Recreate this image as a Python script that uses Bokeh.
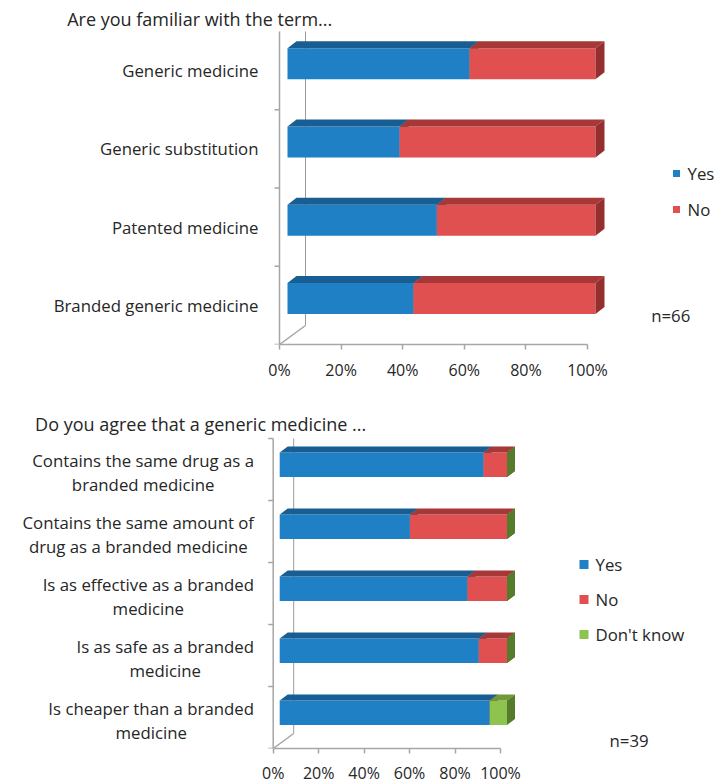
from bokeh.plotting import figure
from bokeh.models import Range1d, FixedTicker, PrintfTickFormatter
from bokeh.layouts import column
from bokeh.embed import file_html
from bokeh.resources import INLINE
from bokeh.core.properties import value

# ---------------- data ----------------
q1_title = "Are you familiar with the term..."
q1_categories = ["Generic medicine", "Generic substitution",
                 "Patented medicine", "Branded generic medicine"]
q1_series = ["Yes", "No"]
q1_yes = [59.1, 36.4, 48.5, 40.9]
q1_no = [40.9, 63.6, 51.5, 59.1]
q1_note = "n=66"

q2_title = "Do you agree that a generic medicine ..."
q2_categories = [
    "Contains the same drug as a\nbranded medicine",
    "Contains the same amount of\ndrug as a branded medicine",
    "Is as effective as a branded\nmedicine",
    "Is as safe as a branded\nmedicine",
    "Is cheaper than a branded\nmedicine",
]
q2_series = ["Yes", "No", "Don't know"]
q2_yes = [89.7, 57.3, 82.6, 87.6, 92.4]
q2_no = [10.3, 42.7, 17.4, 12.4, 0.0]
q2_dont_know = [0.0, 0.0, 0.0, 0.0, 7.6]
q2_note = "n=39"

pct_ticks = [0, 20, 40, 60, 80, 100]

# ---------------- style ----------------
FONT = "Open Sans"
TEXT = "#262626"
AXIS = "#A6A6A6"
WALL = "#9A9A9A"
FRONT = ["#1F80C6", "#E05050", "#8DC450"]
TOPC = ["#195E92", "#A63838", "#6E9A3A"]
SIDE = ["#17557F", "#952F2F", "#557C2B"]

G1 = dict(page_left=0, page_top=0, frame_w=718, frame_h=344, border_bottom=41,
          zero_px=279, hundred_px=587, floor_px=344, cat_px=78.25,
          wall=(26, 19), front_off=(8, 6.8), depth=(9, 7), bar_h_px=31,
          label_right_px=258, label_dy_px=0, title_left_px=66.7, title_base_px=18.5,
          title_size="18px", text_size="16.8px", tick_size="16px", standoff=9,
          legend_sq_px=676, legend_text_px=687, legend_y_px=[173, 209], legend_sq=7,
          note_px=(650.7, 315), top_tick=False)

G2 = dict(page_left=0, page_top=385, frame_w=718, frame_h=363, border_bottom=0,
          zero_px=272.7, hundred_px=500, floor_px=748, cat_px=62,
          wall=(20.5, 15), front_off=(6.5, 4.7), depth=(8, 6), bar_h_px=24.5,
          label_right_px=253.5, label_dy_px=3, title_left_px=34.6, title_base_px=423,
          title_size="18px", text_size="16.8px", tick_size="16px", standoff=8,
          legend_sq_px=583.5, legend_text_px=595, legend_y_px=[564, 599, 634], legend_sq=9,
          note_px=(609, 740), top_tick=True)


def build_chart(categories, series_names, series_values, title, note, g):
    sx = (g["hundred_px"] - g["zero_px"]) / 100.0
    sy = g["cat_px"]
    X = lambda px: (px - g["zero_px"]) / sx
    Y = lambda py: (g["floor_px"] - py) / sy
    DX = lambda px: px / sx
    DY = lambda px: px / sy
    fw, fh = g["frame_w"], g["frame_h"]

    p = figure(frame_width=fw, frame_height=fh,
               x_range=Range1d(X(g["page_left"]), X(g["page_left"] + fw)),
               y_range=Range1d(0, Y(g["page_top"])),
               output_backend="svg", toolbar_location=None, y_axis_location=None,
               min_border_left=0, min_border_right=0, min_border_top=0,
               min_border_bottom=g["border_bottom"], outline_line_color=None,
               background_fill_color="white", border_fill_color="white")
    p.grid.visible = False

    # x axis (floor)
    ax = p.xaxis[0]
    ax.ticker = FixedTicker(ticks=pct_ticks)
    ax.formatter = PrintfTickFormatter(format="%d%%")
    ax.bounds = (pct_ticks[0], pct_ticks[-1])
    ax.axis_line_color = AXIS
    ax.axis_line_width = 1.5
    ax.major_tick_line_color = AXIS
    ax.major_tick_line_width = 1.5
    ax.major_tick_out = 5
    ax.major_tick_in = 0
    ax.minor_tick_line_color = None
    ax.major_label_text_font = FONT
    ax.major_label_text_font_size = g["tick_size"]
    ax.major_label_text_color = TEXT
    ax.major_label_standoff = g["standoff"]

    n = len(categories)
    centers = [n - i - 0.5 for i in range(n)]
    wx, wy = DX(g["wall"][0]), DY(g["wall"][1])

    # walls / left axis
    p.segment(x0=[0, wx, 0], y0=[0, wy, 0], x1=[0, wx, wx], y1=[n, n, wy],
              line_color=[AXIS, WALL, AXIS], line_width=[1.5, 1, 1.5])
    bounds = list(range(0, n + 1 if g["top_tick"] else n))
    p.segment(x0=[-DX(5)] * len(bounds), y0=bounds, x1=[0] * len(bounds), y1=bounds,
              line_color=AXIS, line_width=1.5)

    # 3D stacked bars
    fx, fy = DX(g["front_off"][0]), DY(g["front_off"][1])
    bx, by = DX(g["depth"][0]), DY(g["depth"][1])
    hh = DY(g["bar_h_px"]) / 2.0
    bots = [c - hh + fy for c in centers]
    tops = [c + hh + fy for c in centers]
    cum = [0.0] * n
    for j, vals in enumerate(series_values):
        lefts = [c + fx for c in cum]
        rights = [c + v + fx for c, v in zip(cum, vals)]
        p.quad(left=lefts, right=rights, bottom=bots, top=tops,
               fill_color=FRONT[j], line_color=None)
        p.patches(xs=[[l, r, r + bx, l + bx] for l, r in zip(lefts, rights)],
                  ys=[[t, t, t + by, t + by] for t in tops],
                  fill_color=TOPC[j], line_color=None)
        p.patches(xs=[[r, r, r + bx, r + bx] for r in rights],
                  ys=[[b, t, t + by, b + by] for b, t in zip(bots, tops)],
                  fill_color=SIDE[j], line_color=None)
        cum = [c + v for c, v in zip(cum, vals)]

    # category labels
    p.text(x=[X(g["label_right_px"])] * n, y=[c - DY(g["label_dy_px"]) for c in centers],
           text=categories, anchor="center_right", text_align="center",
           text_baseline="middle", text_line_height=1.02,
           text_font=value(FONT), text_font_size=g["text_size"], text_color=TEXT)

    # title
    p.text(x=[X(g["title_left_px"])], y=[Y(g["title_base_px"])], text=[title],
           text_align="left", text_baseline="alphabetic",
           text_font=value(FONT), text_font_size=g["title_size"], text_color=TEXT)

    # legend
    k = len(series_names)
    ly = [Y(v) for v in g["legend_y_px"][:k]]
    p.scatter(x=[X(g["legend_sq_px"])] * k, y=ly, marker="square", size=g["legend_sq"],
              fill_color=FRONT[:k], line_color=None)
    p.text(x=[X(g["legend_text_px"])] * k, y=ly, text=series_names,
           text_align="left", text_baseline="middle",
           text_font=value(FONT), text_font_size=g["text_size"], text_color=TEXT)

    # sample size note
    p.text(x=[X(g["note_px"][0])], y=[Y(g["note_px"][1])], text=[note],
           text_align="left", text_baseline="middle",
           text_font=value(FONT), text_font_size=g["text_size"], text_color=TEXT)
    return p


p1 = build_chart(q1_categories, q1_series, [q1_yes, q1_no], q1_title, q1_note, G1)
p2 = build_chart(q2_categories, q2_series, [q2_yes, q2_no, q2_dont_know], q2_title, q2_note, G2)

layout = column(p1, p2)
open("out.html", "w").write(file_html(layout, INLINE))
